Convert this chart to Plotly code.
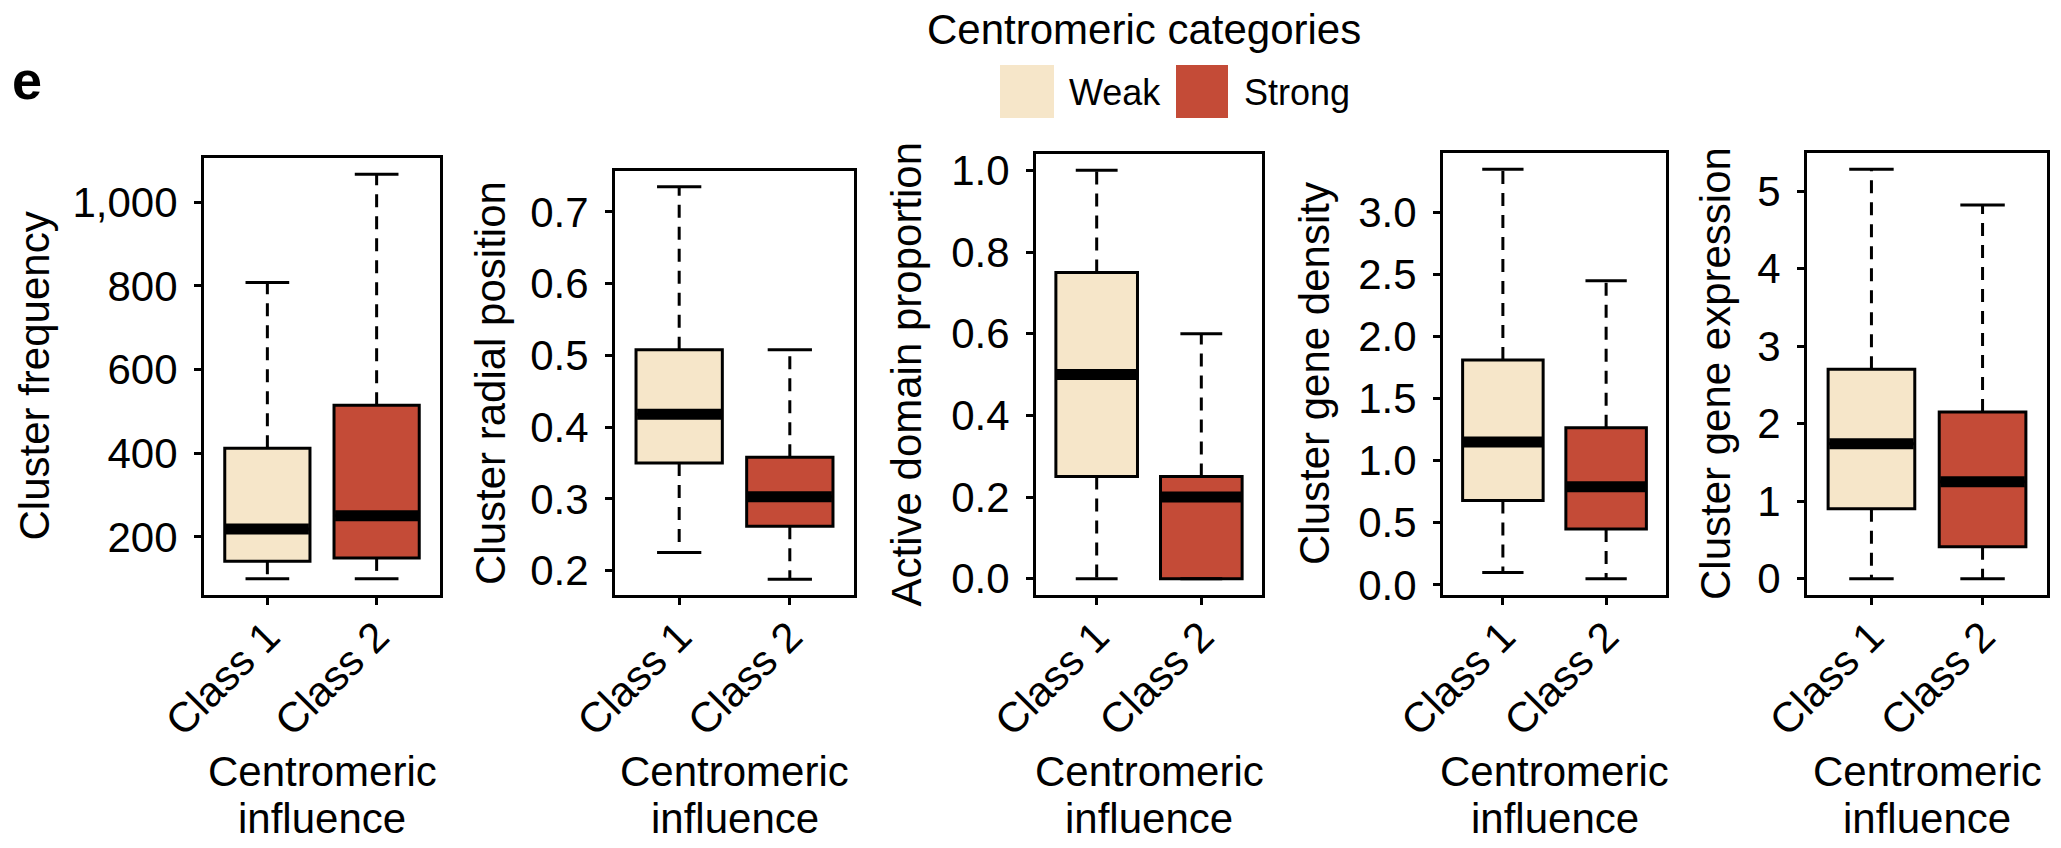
import plotly.graph_objects as go

W, H = 2061, 848
FONT = "Liberation Sans, Arial, Helvetica, sans-serif"

# ---------------- data ----------------
classes = ["Class 1", "Class 2"]
categories = ["Weak", "Strong"]
cat_colors = ["#F6E6C9", "#C44B37"]

freq_lower = [100, 100]
freq_q1 = [142, 150]
freq_median = [219, 251]
freq_q3 = [412, 515]
freq_upper = [808, 1067]

radial_lower = [0.2255, 0.188]
radial_q1 = [0.350, 0.262]
radial_median = [0.418, 0.303]
radial_q3 = [0.508, 0.358]
radial_upper = [0.735, 0.508]

active_lower = [0.0, 0.0]
active_q1 = [0.25, 0.0]
active_median = [0.50, 0.20]
active_q3 = [0.75, 0.25]
active_upper = [1.0, 0.60]

density_lower = [0.10, 0.05]
density_q1 = [0.68, 0.45]
density_median = [1.15, 0.79]
density_q3 = [1.81, 1.265]
density_upper = [3.346, 2.45]

expr_lower = [0.0, 0.0]
expr_q1 = [0.90, 0.41]
expr_median = [1.74, 1.25]
expr_q3 = [2.70, 2.15]
expr_upper = [5.28, 4.82]

y_titles = ["Cluster frequency", "Cluster radial position", "Active domain proportion",
            "Cluster gene density", "Cluster gene expression"]
y_dticks = [200, 0.1, 0.2, 0.5, 1]
y_formats = [",d", ".1f", ".1f", ".1f", "d"]
x_title_lines = ["Centromeric", "influence"]
legend_title = "Centromeric categories"
panel_label = "e"

panels = [
    (freq_lower, freq_q1, freq_median, freq_q3, freq_upper),
    (radial_lower, radial_q1, radial_median, radial_q3, radial_upper),
    (active_lower, active_q1, active_median, active_q3, active_upper),
    (density_lower, density_q1, density_median, density_q3, density_upper),
    (expr_lower, expr_q1, expr_median, expr_q3, expr_upper),
]

# ---------------- layout (pixel frames of each panel) ----------------
frames = [(204, 440, 158, 595), (615, 854, 171, 595), (1036, 1262, 154, 595),
          (1443, 1666, 153, 595), (1807, 2047, 153, 595)]
ytitle_x = [34, 491, 906, 1314, 1715]
positions = [1, 2]
box_w = 0.78
cap_half = 0.2

fig = go.Figure()
layout = dict(
    template="none",
    width=W, height=H, margin=dict(l=0, r=0, t=0, b=0, autoexpand=False),
    paper_bgcolor="white", plot_bgcolor="white", showlegend=False,
    font=dict(family=FONT, color="black"),
)
annotations = []
shapes = []

def px(x):
    return x / W

def py(y):
    return 1 - y / H

for i, (lo, q1, med, q3, up) in enumerate(panels):
    n = i + 1
    xa = "x" if n == 1 else f"x{n}"
    ya = "y" if n == 1 else f"y{n}"
    l, r, t, b = frames[i]
    for j, pos in enumerate(positions):
        # dashed whiskers
        fig.add_trace(go.Scatter(
            x=[pos, pos, None, pos, pos], y=[q3[j], up[j], None, q1[j], lo[j]],
            mode="lines", line=dict(color="black", width=3, dash="13px,9px"),
            xaxis=xa, yaxis=ya, hoverinfo="skip"))
        # staples
        fig.add_trace(go.Scatter(
            x=[pos - cap_half, pos + cap_half, None, pos - cap_half, pos + cap_half],
            y=[up[j], up[j], None, lo[j], lo[j]],
            mode="lines", line=dict(color="black", width=3),
            xaxis=xa, yaxis=ya, hoverinfo="skip"))
        # box
        fig.add_trace(go.Box(
            x=[pos], q1=[q1[j]], median=[med[j]], q3=[q3[j]],
            lowerfence=[q1[j]], upperfence=[q3[j]], width=box_w, whiskerwidth=0,
            fillcolor=cat_colors[j], line=dict(color="black", width=3),
            boxpoints=False, xaxis=xa, yaxis=ya, name=classes[j]))
        # thick median
        fig.add_trace(go.Scatter(
            x=[pos - box_w / 2 + 0.01, pos + box_w / 2 - 0.01], y=[med[j], med[j]],
            mode="lines", line=dict(color="black", width=11),
            xaxis=xa, yaxis=ya, hoverinfo="skip"))

    ymin, ymax = min(lo), max(up)
    pad = 0.04 * (ymax - ymin)
    axis_common = dict(showgrid=False, zeroline=False, showline=True, mirror=True,
                       linecolor="black", linewidth=3, ticks="outside", ticklen=7,
                       tickwidth=3, tickcolor="black", automargin=False)
    layout["xaxis" if n == 1 else f"xaxis{n}"] = dict(
        domain=[px(l), px(r)], anchor=ya, range=[0.42, 2.58],
        tickvals=positions, ticktext=classes, tickangle=-45, ticklabelstandoff=-10,
        tickfont=dict(size=42, family=FONT, color="black"), **axis_common)
    layout["yaxis" if n == 1 else f"yaxis{n}"] = dict(
        domain=[py(b), py(t)], anchor=xa, range=[ymin - pad, ymax + pad],
        dtick=y_dticks[i], tick0=0, tickformat=y_formats[i], ticklabelstandoff=8,
        tickfont=dict(size=42, family=FONT, color="black"), **axis_common)

    annotations.append(dict(
        text=y_titles[i], x=px(ytitle_x[i]), y=py((t + b) / 2), xref="paper", yref="paper",
        textangle=-90, showarrow=False, xanchor="center", yanchor="middle",
        font=dict(size=42, family=FONT, color="black")))
    cx = (l + r) / 2
    for k, ytxt in enumerate([771, 818]):
        annotations.append(dict(
            text=x_title_lines[k], x=px(cx), y=py(ytxt), xref="paper", yref="paper",
            showarrow=False, xanchor="center", yanchor="middle",
            font=dict(size=42, family=FONT, color="black")))

# legend
annotations.append(dict(text=legend_title, x=px(1144), y=py(30), xref="paper", yref="paper",
                        showarrow=False, xanchor="center", yanchor="middle",
                        font=dict(size=42, family=FONT, color="black")))
legend_sq = [(1000, 1054), (1176, 1228)]
legend_txt_x = [1067, 1242]
for k in range(2):
    x0, x1 = legend_sq[k]
    shapes.append(dict(type="rect", xref="paper", yref="paper", x0=px(x0), x1=px(x1),
                       y0=py(118), y1=py(65), fillcolor=cat_colors[k], line=dict(width=0)))
    annotations.append(dict(text=categories[k], x=px(legend_txt_x[k]), y=py(92),
                            xref="paper", yref="paper", showarrow=False,
                            xanchor="left", yanchor="middle",
                            font=dict(size=36, family=FONT, color="black")))

annotations.append(dict(text=f"<b>{panel_label}</b>", x=px(10), y=py(80), xref="paper", yref="paper",
                        showarrow=False, xanchor="left", yanchor="middle",
                        font=dict(size=54, family=FONT, color="black")))

layout["annotations"] = annotations
layout["shapes"] = shapes
fig.update_layout(**layout)
fig.write_html("out.html")
